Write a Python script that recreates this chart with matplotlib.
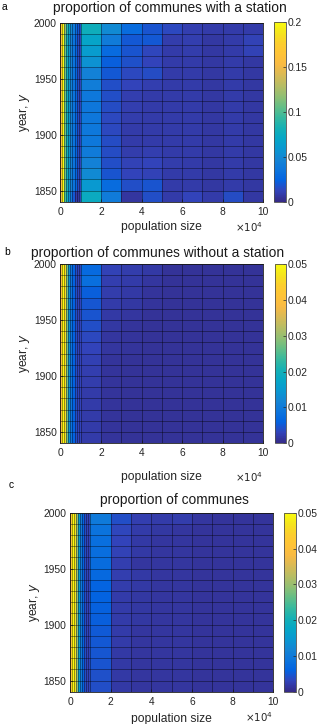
import numpy as np
import matplotlib
matplotlib.use("Agg")
import matplotlib.pyplot as plt
from matplotlib.colors import LinearSegmentedColormap
from matplotlib.ticker import FuncFormatter

plt.rcParams['font.family'] = ['Liberation Sans', 'DejaVu Sans']

# bin edges
pop_edges = [0, 1000, 2000, 3000, 4000, 5000, 6000, 7000, 8000, 9000, 10000,
             20000, 30000, 40000, 50000, 60000, 70000, 80000, 90000, 100000]
year_edges = [1840, 1850, 1860, 1870, 1880, 1890, 1900, 1910, 1920,
              1930, 1940, 1950, 1960, 1970, 1980, 1990, 2000]

# (a) proportion of communes with a station, rows 1840s -> 1990s
with_station = [
    [0.15, 0.20, 0.10, 0.08, 0.055, 0.040, 0.020, 0.008, 0.006, 0.012, 0.075, 0.040, 0.006, 0.016, 0.008, 0.012, 0.008, 0.015, 0.007],
    [0.16, 0.20, 0.11, 0.08, 0.060, 0.045, 0.035, 0.025, 0.015, 0.012, 0.060, 0.030, 0.016, 0.018, 0.008, 0.008, 0.007, 0.008, 0.007],
    [0.16, 0.20, 0.11, 0.08, 0.060, 0.045, 0.035, 0.025, 0.015, 0.012, 0.050, 0.018, 0.012, 0.011, 0.008, 0.008, 0.007, 0.008, 0.007],
    [0.16, 0.20, 0.11, 0.08, 0.060, 0.045, 0.035, 0.025, 0.015, 0.012, 0.045, 0.016, 0.011, 0.012, 0.009, 0.008, 0.007, 0.008, 0.007],
    [0.16, 0.20, 0.11, 0.08, 0.060, 0.045, 0.035, 0.025, 0.015, 0.012, 0.040, 0.015, 0.009, 0.010, 0.008, 0.008, 0.007, 0.008, 0.007],
    [0.16, 0.20, 0.11, 0.08, 0.060, 0.045, 0.035, 0.025, 0.015, 0.012, 0.038, 0.015, 0.008, 0.008, 0.008, 0.008, 0.007, 0.008, 0.007],
    [0.16, 0.20, 0.11, 0.08, 0.060, 0.045, 0.035, 0.025, 0.015, 0.012, 0.038, 0.014, 0.008, 0.008, 0.008, 0.008, 0.007, 0.008, 0.007],
    [0.16, 0.20, 0.11, 0.08, 0.060, 0.045, 0.035, 0.025, 0.015, 0.012, 0.037, 0.014, 0.009, 0.008, 0.008, 0.008, 0.007, 0.008, 0.007],
    [0.16, 0.20, 0.11, 0.08, 0.060, 0.045, 0.035, 0.025, 0.015, 0.012, 0.037, 0.015, 0.010, 0.008, 0.008, 0.008, 0.007, 0.008, 0.007],
    [0.16, 0.20, 0.11, 0.08, 0.060, 0.045, 0.035, 0.025, 0.015, 0.012, 0.038, 0.016, 0.010, 0.008, 0.008, 0.008, 0.007, 0.008, 0.007],
    [0.16, 0.20, 0.11, 0.08, 0.060, 0.045, 0.035, 0.025, 0.015, 0.012, 0.042, 0.016, 0.012, 0.010, 0.008, 0.008, 0.007, 0.008, 0.007],
    [0.16, 0.20, 0.11, 0.08, 0.060, 0.045, 0.035, 0.025, 0.015, 0.012, 0.045, 0.020, 0.014, 0.015, 0.008, 0.008, 0.007, 0.008, 0.007],
    [0.16, 0.20, 0.11, 0.08, 0.060, 0.045, 0.035, 0.025, 0.015, 0.012, 0.055, 0.022, 0.017, 0.012, 0.008, 0.008, 0.007, 0.008, 0.007],
    [0.16, 0.20, 0.11, 0.08, 0.060, 0.045, 0.035, 0.025, 0.015, 0.012, 0.062, 0.029, 0.018, 0.013, 0.008, 0.009, 0.007, 0.008, 0.011],
    [0.16, 0.20, 0.11, 0.08, 0.060, 0.045, 0.035, 0.025, 0.015, 0.012, 0.068, 0.040, 0.020, 0.020, 0.009, 0.010, 0.007, 0.008, 0.011],
    [0.17, 0.20, 0.12, 0.09, 0.070, 0.050, 0.040, 0.030, 0.020, 0.015, 0.078, 0.050, 0.030, 0.018, 0.014, 0.010, 0.008, 0.008, 0.008],
]

# (b) proportion of communes without a station
without_station = [
    [0.040, 0.050, 0.046, 0.028, 0.014, 0.009, 0.006, 0.004, 0.003, 0.003, 0.0020, 0.0012, 0.0010, 0.0010, 0.0010, 0.0010, 0.0010, 0.0010, 0.0010],
    [0.040, 0.050, 0.046, 0.028, 0.014, 0.009, 0.006, 0.004, 0.003, 0.003, 0.0020, 0.0012, 0.0011, 0.0010, 0.0010, 0.0010, 0.0010, 0.0010, 0.0010],
    [0.040, 0.050, 0.046, 0.028, 0.014, 0.009, 0.006, 0.004, 0.003, 0.003, 0.0020, 0.0012, 0.0011, 0.0010, 0.0010, 0.0010, 0.0010, 0.0010, 0.0010],
    [0.040, 0.050, 0.046, 0.028, 0.014, 0.009, 0.006, 0.004, 0.003, 0.003, 0.0021, 0.0013, 0.0011, 0.0010, 0.0010, 0.0010, 0.0010, 0.0010, 0.0010],
    [0.040, 0.050, 0.046, 0.028, 0.014, 0.009, 0.006, 0.004, 0.003, 0.003, 0.0021, 0.0013, 0.0011, 0.0010, 0.0010, 0.0010, 0.0010, 0.0010, 0.0010],
    [0.040, 0.050, 0.046, 0.028, 0.014, 0.009, 0.006, 0.004, 0.003, 0.003, 0.0022, 0.0013, 0.0011, 0.0010, 0.0010, 0.0010, 0.0010, 0.0010, 0.0010],
    [0.040, 0.050, 0.046, 0.028, 0.014, 0.009, 0.006, 0.004, 0.003, 0.003, 0.0024, 0.0013, 0.0011, 0.0010, 0.0010, 0.0010, 0.0010, 0.0010, 0.0010],
    [0.040, 0.050, 0.046, 0.028, 0.014, 0.009, 0.006, 0.004, 0.003, 0.003, 0.0026, 0.0013, 0.0011, 0.0010, 0.0010, 0.0010, 0.0010, 0.0010, 0.0010],
    [0.040, 0.050, 0.046, 0.028, 0.014, 0.009, 0.006, 0.004, 0.003, 0.003, 0.0030, 0.0014, 0.0012, 0.0010, 0.0010, 0.0010, 0.0010, 0.0010, 0.0010],
    [0.040, 0.050, 0.046, 0.028, 0.014, 0.009, 0.006, 0.004, 0.003, 0.003, 0.0035, 0.0015, 0.0012, 0.0010, 0.0010, 0.0010, 0.0010, 0.0010, 0.0010],
    [0.040, 0.050, 0.046, 0.028, 0.014, 0.009, 0.006, 0.004, 0.003, 0.003, 0.0040, 0.0016, 0.0013, 0.0010, 0.0010, 0.0010, 0.0010, 0.0010, 0.0010],
    [0.040, 0.050, 0.046, 0.028, 0.014, 0.009, 0.006, 0.004, 0.003, 0.003, 0.0045, 0.0018, 0.0014, 0.0011, 0.0010, 0.0010, 0.0010, 0.0010, 0.0010],
    [0.040, 0.050, 0.046, 0.028, 0.014, 0.009, 0.006, 0.004, 0.003, 0.003, 0.0048, 0.0020, 0.0016, 0.0012, 0.0010, 0.0010, 0.0010, 0.0010, 0.0010],
    [0.040, 0.050, 0.046, 0.028, 0.014, 0.009, 0.006, 0.004, 0.003, 0.003, 0.0055, 0.0022, 0.0018, 0.0013, 0.0010, 0.0010, 0.0010, 0.0010, 0.0010],
    [0.040, 0.050, 0.046, 0.028, 0.014, 0.009, 0.006, 0.004, 0.003, 0.003, 0.0080, 0.0024, 0.0020, 0.0015, 0.0011, 0.0010, 0.0010, 0.0010, 0.0010],
    [0.040, 0.050, 0.046, 0.028, 0.014, 0.009, 0.006, 0.004, 0.003, 0.003, 0.0072, 0.0028, 0.0022, 0.0018, 0.0011, 0.0010, 0.0010, 0.0010, 0.0010],
]

# (c) proportion of communes
all_communes = [
    [0.042, 0.050, 0.047, 0.030, 0.016, 0.010, 0.006, 0.004, 0.003, 0.003, 0.0040, 0.0018, 0.0015, 0.0015, 0.0014, 0.0013, 0.0013, 0.0013, 0.0013],
    [0.042, 0.050, 0.047, 0.030, 0.016, 0.010, 0.006, 0.004, 0.003, 0.003, 0.0042, 0.0018, 0.0015, 0.0015, 0.0014, 0.0013, 0.0013, 0.0013, 0.0013],
    [0.042, 0.050, 0.047, 0.030, 0.016, 0.010, 0.006, 0.004, 0.003, 0.003, 0.0045, 0.0019, 0.0015, 0.0015, 0.0014, 0.0013, 0.0013, 0.0013, 0.0013],
    [0.042, 0.050, 0.047, 0.030, 0.016, 0.010, 0.006, 0.004, 0.003, 0.003, 0.0048, 0.0019, 0.0015, 0.0015, 0.0014, 0.0013, 0.0013, 0.0013, 0.0013],
    [0.042, 0.050, 0.047, 0.030, 0.016, 0.010, 0.006, 0.004, 0.003, 0.003, 0.0050, 0.0020, 0.0015, 0.0015, 0.0014, 0.0013, 0.0013, 0.0013, 0.0013],
    [0.042, 0.050, 0.047, 0.030, 0.016, 0.010, 0.006, 0.004, 0.003, 0.003, 0.0052, 0.0020, 0.0015, 0.0015, 0.0014, 0.0013, 0.0013, 0.0013, 0.0013],
    [0.042, 0.050, 0.047, 0.030, 0.016, 0.010, 0.006, 0.004, 0.003, 0.003, 0.0055, 0.0020, 0.0016, 0.0015, 0.0014, 0.0013, 0.0013, 0.0013, 0.0013],
    [0.042, 0.050, 0.047, 0.030, 0.016, 0.010, 0.006, 0.004, 0.003, 0.003, 0.0058, 0.0020, 0.0016, 0.0015, 0.0014, 0.0013, 0.0013, 0.0013, 0.0013],
    [0.042, 0.050, 0.047, 0.030, 0.016, 0.010, 0.006, 0.004, 0.003, 0.003, 0.0060, 0.0021, 0.0017, 0.0015, 0.0014, 0.0013, 0.0013, 0.0013, 0.0013],
    [0.042, 0.050, 0.047, 0.030, 0.016, 0.010, 0.006, 0.004, 0.003, 0.003, 0.0062, 0.0022, 0.0018, 0.0015, 0.0014, 0.0013, 0.0013, 0.0013, 0.0013],
    [0.042, 0.050, 0.047, 0.030, 0.016, 0.010, 0.006, 0.004, 0.003, 0.003, 0.0070, 0.0025, 0.0018, 0.0015, 0.0014, 0.0013, 0.0013, 0.0013, 0.0013],
    [0.042, 0.050, 0.047, 0.030, 0.016, 0.010, 0.006, 0.004, 0.003, 0.003, 0.0075, 0.0025, 0.0015, 0.0015, 0.0014, 0.0013, 0.0013, 0.0013, 0.0013],
    [0.042, 0.050, 0.047, 0.030, 0.016, 0.010, 0.006, 0.004, 0.003, 0.003, 0.0078, 0.0028, 0.0018, 0.0015, 0.0014, 0.0013, 0.0013, 0.0013, 0.0013],
    [0.042, 0.050, 0.047, 0.030, 0.016, 0.010, 0.006, 0.004, 0.003, 0.003, 0.0080, 0.0030, 0.0018, 0.0015, 0.0014, 0.0013, 0.0013, 0.0013, 0.0013],
    [0.042, 0.050, 0.047, 0.030, 0.016, 0.010, 0.006, 0.004, 0.003, 0.003, 0.0085, 0.0032, 0.0020, 0.0016, 0.0015, 0.0013, 0.0013, 0.0013, 0.0013],
    [0.042, 0.050, 0.047, 0.030, 0.016, 0.010, 0.006, 0.004, 0.003, 0.003, 0.0098, 0.0040, 0.0025, 0.0020, 0.0022, 0.0014, 0.0013, 0.0013, 0.0013],
]

titles = ['proportion of communes with a station',
          'proportion of communes without a station',
          'proportion of communes']
panel_letters = ['a', 'b', 'c']
vmaxes = [0.2, 0.05, 0.05]
cbar_ticks = [[0, 0.05, 0.1, 0.15, 0.2],
              [0, 0.01, 0.02, 0.03, 0.04, 0.05],
              [0, 0.01, 0.02, 0.03, 0.04, 0.05]]

# parula-like colormap
parula = LinearSegmentedColormap.from_list('parula', [
    (0.2081, 0.1663, 0.5292), (0.1959, 0.2645, 0.7279), (0.0117, 0.3875, 0.8820),
    (0.0498, 0.4586, 0.8641), (0.0793, 0.5200, 0.8312), (0.0343, 0.5966, 0.8199),
    (0.0228, 0.6535, 0.7768), (0.0843, 0.6928, 0.7062), (0.2178, 0.7250, 0.6193),
    (0.3953, 0.7459, 0.5244), (0.5709, 0.7485, 0.4494), (0.7184, 0.7411, 0.3905),
    (0.8507, 0.7299, 0.3360), (0.9739, 0.7314, 0.2666), (0.9990, 0.7653, 0.2164),
    (0.9880, 0.8066, 0.1794), (0.9589, 0.8949, 0.1132), (0.9763, 0.9831, 0.0538)])

W, H = 332, 724
fig = plt.figure(figsize=(W / 100, H / 100), dpi=100)

# pixel boxes: axes (left, top, right, bottom), colorbar, title pad, xlabel pad
ax_px = [(60.3, 22.7, 263.3, 201.7), (60.3, 264, 263.3, 443.3), (70, 512.7, 273.3, 691.7)]
cb_px = [(274, 22, 285.7, 201.7), (275, 264, 286, 443.3), (284.3, 513, 296, 691.7)]
letter_px = [(2, 7), (4, 252), (9, 485)]
title_pads = [7.5, 5.0, 6.2]
title_x = [0.54, 0.48, 0.515]
xlabel_pads = [3.0, 9.5, 4.5]
times_y = [-0.17, -0.215, -0.17]

def box(l, t, r, b):
    return [l / W, 1 - b / H, (r - l) / W, (b - t) / H]

panels = [with_station, without_station, all_communes]
for i, data in enumerate(panels):
    ax = fig.add_axes(box(*ax_px[i]))
    mesh = ax.pcolormesh(pop_edges, year_edges, np.array(data), cmap=parula,
                         vmin=0, vmax=vmaxes[i], antialiased=False)
    # cell edges
    ax.vlines(pop_edges, year_edges[0], year_edges[-1], colors='k',
              linewidth=0.45, alpha=0.6)
    ax.hlines(year_edges, pop_edges[0], pop_edges[-1], colors='k',
              linewidth=0.45, alpha=0.6)
    ax.set_xlim(0, 100000)
    ax.set_ylim(1840, 2000)
    ax.set_xticks([0, 20000, 40000, 60000, 80000, 100000])
    ax.xaxis.set_major_formatter(FuncFormatter(lambda v, p: '%d' % round(v / 1e4)))
    ax.set_yticks([1850, 1900, 1950, 2000])
    ax.tick_params(direction='in', length=2.5, width=0.5, labelsize=7.4,
                   colors='0.15')
    ax.tick_params(axis='x', pad=3.5)
    ax.tick_params(axis='y', pad=2.5)
    for s in ax.spines.values():
        s.set_linewidth(0.6)
        s.set_color('0.1')
    ax.set_title(titles[i], fontsize=9.9, pad=title_pads[i], color='0.1',
                 x=title_x[i])
    ax.set_xlabel('population size', fontsize=8.7, labelpad=xlabel_pads[i], color='0.15')
    ax.set_ylabel('year, $y$', fontsize=8.7, labelpad=1, color='0.15')
    ax.text(1.0, times_y[i], r'$\times10^4$', transform=ax.transAxes,
            ha='right', va='baseline', fontsize=7.4, color='0.15')
    fig.text(letter_px[i][0] / W, 1 - letter_px[i][1] / H, panel_letters[i],
             fontsize=7.4, ha='left', va='center')

    cax = fig.add_axes(box(*cb_px[i]))
    cb = fig.colorbar(mesh, cax=cax, ticks=cbar_ticks[i])
    cb.ax.set_yticklabels(['%g' % t for t in cbar_ticks[i]])
    cb.ax.tick_params(direction='in', length=2.5, width=0.5, labelsize=7.4,
                      pad=1.5, colors='0.15')
    cb.outline.set_linewidth(0.6)
    cb.outline.set_edgecolor('0.3')

fig.savefig('out.png', dpi=100)
